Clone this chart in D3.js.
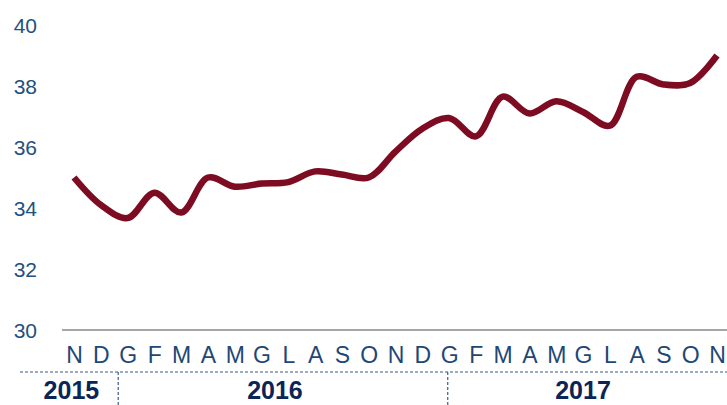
<!DOCTYPE html>
<html>
<head>
<meta charset="utf-8">
<script src="https://cdn.jsdelivr.net/npm/d3@7"></script>
<style>
  body { margin: 0; background: #fff; }
  svg { display: block; }
</style>
</head>
<body>
<svg id="chart" width="727" height="405"></svg>
<script>
// months Nov 2015 .. Nov 2017
const months = ["N","D","G","F","M","A","M","G","L","A","S","O",
                "N","D","G","F","M","A","M","G","L","A","S","O","N"];
const values = [35.0, 34.1, 33.67, 34.5, 33.85, 35.0, 34.7, 34.8, 34.85, 35.2, 35.1, 35.0,
                35.85, 36.6, 36.95, 36.35, 37.65, 37.1, 37.5, 37.15, 36.7, 38.3, 38.05, 38.1, 39.0];
const yTicks = [30, 32, 34, 36, 38, 40];
// year groups: label, first index, last index
const years = [
    { label: "2015", from: 0, to: 1 },
    { label: "2016", from: 2, to: 13 },
    { label: "2017", from: 14, to: 24 },
];

const svg = d3.select("svg#chart");
const bounds = { minX: 74, maxX: 717, minY: 25, maxY: 330 };

const scaleX = d3.scaleLinear().domain([0, months.length - 1]).range([bounds.minX, bounds.maxX]);
const scaleY = d3.scaleLinear().domain([30, 40]).range([bounds.maxY, bounds.minY]);

// y axis labels only (no gridlines)
const yAxis = d3.axisLeft(scaleY).tickValues(yTicks).tickSize(0).tickPadding(0);
const yG = svg.append("g").attr("transform", "translate(37 0)").call(yAxis);
yG.select(".domain").remove();
yG.selectAll("text")
    .attr("font-family", "Liberation Sans, Arial, sans-serif")
    .attr("font-size", 21)
    .attr("fill", "#24507e")
    .attr("dy", "0.35em");

// baseline
svg.append("line")
    .attr("x1", 62).attr("x2", 727)
    .attr("y1", scaleY(30)).attr("y2", scaleY(30))
    .attr("stroke", "#a6a6a6").attr("stroke-width", 2);

// month labels
const xAxis = d3.axisBottom(scaleX).tickValues(d3.range(months.length))
    .tickFormat(i => months[i]).tickSize(0).tickPadding(0);
const xG = svg.append("g").attr("transform", "translate(0 363)").call(xAxis);
xG.select(".domain").remove();
xG.selectAll("text")
    .attr("font-family", "Liberation Sans Narrow, Arial Narrow, Liberation Sans, sans-serif")
    .attr("font-size", 23)
    .attr("fill", "#1f4776")
    .attr("dy", 0);

// year separators
const sepY = 372;
svg.append("line")
    .attr("x1", 20).attr("x2", 727).attr("y1", sepY).attr("y2", sepY)
    .attr("stroke", "#3a5a8a").attr("stroke-width", 1.2).attr("stroke-dasharray", "3,2");
svg.selectAll("line.sep").data([1.65, 13.95]).join("line")
    .attr("class", "sep")
    .attr("x1", d => scaleX(d)).attr("x2", d => scaleX(d))
    .attr("y1", sepY).attr("y2", 405)
    .attr("stroke", "#3a5a8a").attr("stroke-width", 1.2).attr("stroke-dasharray", "3,2");

// year labels
svg.selectAll("text.year").data(years).join("text")
    .attr("class", "year")
    .attr("x", d => (scaleX(d.from) + scaleX(d.to)) / 2 - (d.label === "2015" ? 16 : 0))
    .attr("y", 399)
    .attr("text-anchor", "middle")
    .attr("font-family", "Liberation Sans, Arial, sans-serif")
    .attr("font-weight", "bold")
    .attr("font-size", 25)
    .attr("fill", "#0b2556")
    .text(d => d.label);

// the line
const line = d3.line()
    .x((d, i) => scaleX(i))
    .y(d => scaleY(d))
    .curve(d3.curveCatmullRom.alpha(0.5));

svg.append("path")
    .datum(values)
    .attr("d", line)
    .attr("fill", "none")
    .attr("stroke", "#7d0c22")
    .attr("stroke-width", 6.5)
    .attr("stroke-linejoin", "round");
</script>
</body>
</html>
